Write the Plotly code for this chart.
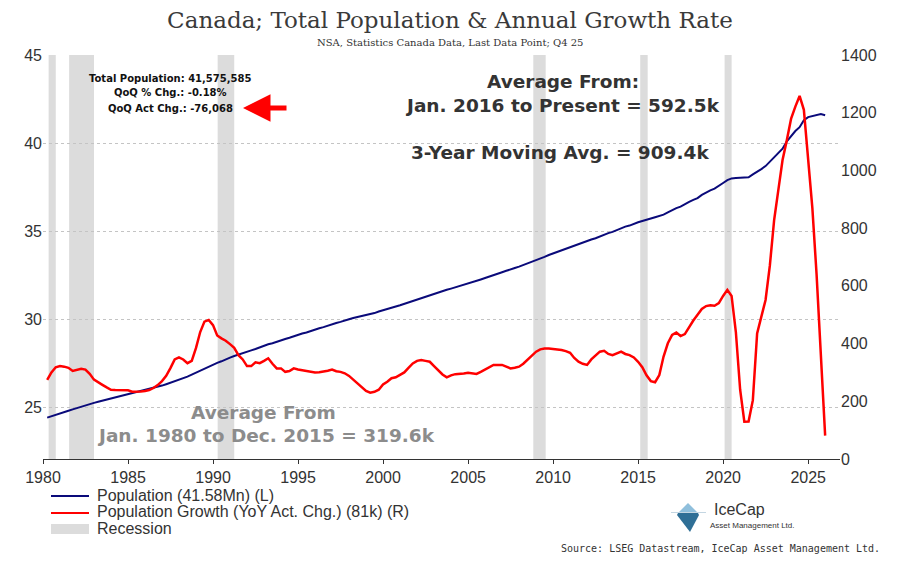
import plotly.graph_objects as go
from plotly.subplots import make_subplots

# quarterly data, 1980 Q1 .. 2025 Q4 (four values per row = one year)
years = list(range(1980, 2026))

population_mn = [
    24.40, 24.47, 24.55, 24.63,  # 1980
    24.72, 24.79, 24.87, 24.95,
    25.03, 25.10, 25.17, 25.24,
    25.30, 25.36, 25.43, 25.48,
    25.54, 25.60, 25.66, 25.71,
    25.77, 25.83, 25.89, 25.95,  # 1985
    26.01, 26.07, 26.15, 26.22,
    26.30, 26.38, 26.47, 26.55,
    26.64, 26.73, 26.84, 26.96,
    27.08, 27.18, 27.31, 27.41,
    27.51, 27.60, 27.72, 27.81,  # 1990
    27.90, 27.97, 28.06, 28.14,
    28.22, 28.30, 28.40, 28.48,
    28.57, 28.63, 28.72, 28.79,
    28.87, 28.94, 29.03, 29.10,
    29.18, 29.24, 29.33, 29.40,  # 1995
    29.48, 29.54, 29.63, 29.70,
    29.78, 29.84, 29.93, 29.99,
    30.06, 30.11, 30.18, 30.23,
    30.29, 30.34, 30.43, 30.49,
    30.56, 30.62, 30.71, 30.78,  # 2000
    30.86, 30.93, 31.03, 31.11,
    31.20, 31.27, 31.37, 31.44,
    31.51, 31.57, 31.66, 31.73,
    31.80, 31.86, 31.95, 32.02,
    32.10, 32.16, 32.25, 32.33,  # 2005
    32.42, 32.49, 32.58, 32.66,
    32.74, 32.80, 32.90, 32.98,
    33.07, 33.14, 33.25, 33.35,
    33.45, 33.53, 33.64, 33.73,
    33.83, 33.90, 34.01, 34.09,  # 2010
    34.17, 34.24, 34.34, 34.43,
    34.52, 34.59, 34.70, 34.79,
    34.88, 34.95, 35.06, 35.16,
    35.25, 35.31, 35.42, 35.50,
    35.57, 35.62, 35.71, 35.78,  # 2015
    35.86, 35.93, 36.06, 36.19,
    36.30, 36.39, 36.54, 36.66,
    36.77, 36.87, 37.05, 37.19,
    37.31, 37.41, 37.59, 37.73,
    37.89, 37.99, 38.01, 38.03,  # 2020
    38.02, 38.05, 38.22, 38.36,
    38.52, 38.69, 38.93, 39.21,
    39.46, 39.68, 40.10, 40.40,
    40.68, 40.90, 41.29, 41.47,
    41.53, 41.55, 41.65, 41.58,  # 2025
]

growth_k = [
    274, 300, 318, 322,  # 1980
    320, 316, 305, 310,
    313, 310, 295, 275,
    265, 257, 248, 240,
    239, 239, 239, 238,
    233, 233, 234, 236,  # 1985
    239, 246, 256, 270,
    288, 315, 345, 352,
    345, 332, 340, 385,
    440, 476, 482, 464,
    428, 418, 410, 398,  # 1990
    385, 360, 345, 322,
    322, 335, 332, 340,
    349, 330, 314, 314,
    302, 305, 314, 310,
    307, 305, 302, 300,  # 1995
    301, 303, 306, 310,
    304, 302, 297, 288,
    275, 260, 247, 236,
    230, 233, 240, 258,
    268, 280, 283, 292,  # 2000
    300, 316, 331, 340,
    343, 340, 337, 322,
    308, 293, 283, 290,
    294, 294, 296, 299,
    296, 295, 302, 311,  # 2005
    320, 326, 326, 326,
    320, 314, 316, 320,
    330, 343, 358, 372,
    380, 383, 383, 382,
    380, 378, 374, 368,  # 2010
    350, 337, 330, 326,
    345, 360, 372, 375,
    364, 360, 366, 372,
    364, 360, 352, 337,
    318, 290, 270, 266,  # 2015
    291, 355, 401, 430,
    438, 426, 433, 458,
    480, 500, 520, 530,
    533, 531, 540, 565,
    586, 565, 440, 240,  # 2020
    129, 130, 204, 435,
    495, 551, 670, 828,
    932, 1036, 1105, 1180,
    1221, 1258, 1210, 1040,
    870, 640, 380, 81,  # 2025
]

recession_start = ["1980-05-01", "1981-07-15", "1990-04-10", "2008-11-01", "2015-02-15", "2020-02-01"]
recession_end = ["1980-10-01", "1983-01-01", "1991-04-01", "2009-07-25", "2015-07-25", "2020-07-01"]

quarter_end = ["03-31", "06-30", "09-30", "12-31"]
dates = [f"{y}-{q}" for y in years for q in quarter_end]

# the page puts the figure 8px in from the top-left, so the figure is made
# 8px smaller; helpers below take window pixels (plot area 43..840 x 55..459)
OFF = 8
W, H = 901 - OFF, 567 - OFF
L, R, T, B = 43 - OFF, 61, 55 - OFF, 108
PW, PH = W - L - R, H - T - B


def px(x):
    return (x - OFF - L) / PW


def py(y):
    return (H - B - (y - OFF)) / PH


TXT = "#333333"
SANS = "Liberation Sans, Arial, sans-serif"
BOLD = "DejaVu Sans, sans-serif"

fig = make_subplots(specs=[[{"secondary_y": True}]])

fig.add_trace(
    go.Scatter(x=dates, y=population_mn, mode="lines",
               line=dict(color="#0a0a7a", width=2), showlegend=False,
               name="Population (41.58Mn) (L)"),
    secondary_y=False,
)
fig.add_trace(
    go.Scatter(x=dates, y=growth_k, mode="lines",
               line=dict(color="#ff0000", width=2.5), showlegend=False,
               name="Population Growth (YoY Act. Chg.) (81k) (R)"),
    secondary_y=True,
)

for s, e in zip(recession_start, recession_end):
    fig.add_shape(type="rect", xref="x", yref="paper", x0=s, x1=e, y0=0, y1=1,
                  fillcolor="#dcdcdc", line_width=0, layer="below")

# hand-drawn legend
legend_items = [
    ("line", "#0a0a7a", "Population (41.58Mn) (L)", 495),
    ("line", "#ff0000", "Population Growth (YoY Act. Chg.) (81k) (R)", 512),
    ("box", "#dcdcdc", "Recession", 528),
]
annotations = []
for kind, col, label, yy in legend_items:
    if kind == "line":
        fig.add_shape(type="line", xref="paper", yref="paper", x0=px(51), x1=px(89),
                      y0=py(yy + 1), y1=py(yy + 1), line=dict(color=col, width=2))
    else:
        fig.add_shape(type="rect", xref="paper", yref="paper", x0=px(51), x1=px(89),
                      y0=py(yy + 6), y1=py(yy - 4), fillcolor=col, line_width=0)
    annotations.append(dict(x=px(95), y=py(yy), text=label, xanchor="left",
                            font=dict(family=SANS, size=16, color=TXT)))

# logo
logo_light = [(688, 503), (698, 513), (678, 513)]
logo_dark = [(678, 513), (698, 513), (699, 515), (690, 532), (677, 515)]
for pts, col in ((logo_light, "#8fbfdc"), (logo_dark, "#2f6f96")):
    path = "M " + " L ".join(f"{px(a)},{py(b)}" for a, b in pts) + " Z"
    fig.add_shape(type="path", xref="paper", yref="paper", path=path,
                  fillcolor=col, line_width=0)
fig.add_shape(type="line", xref="paper", yref="paper", x0=px(671), x1=px(706),
              y0=py(512.5), y1=py(512.5), line=dict(color="#c4d6e2", width=1))

annotations += [
    dict(x=px(712), y=py(509.5), text="IceCap", xanchor="left",
         font=dict(family=SANS, size=16, color=TXT)),
    dict(x=px(708), y=py(525.5), text="Asset Management Ltd.", xanchor="left",
         font=dict(family=SANS, size=8, color=TXT)),
    dict(x=px(882), y=py(548), text="Source: LSEG Datastream, IceCap Asset Management Ltd.",
         xanchor="right", font=dict(family="DejaVu Sans Mono, monospace", size=10, color=TXT)),
    dict(x=px(450), y=py(43), text="NSA, Statistics Canada Data, Last Data Point; Q4 25",
         font=dict(family="DejaVu Serif, serif", size=10, color=TXT)),
    # top-left info box
    dict(x=px(170), y=py(78), text="<b>Total Population: 41,575,585</b>",
         font=dict(family=BOLD, size=10, color="#111111")),
    dict(x=px(170), y=py(93), text="<b>QoQ % Chg.: -0.18%</b>",
         font=dict(family=BOLD, size=10, color="#111111")),
    dict(x=px(170), y=py(108), text="<b>QoQ Act Chg.: -76,068</b>",
         font=dict(family=BOLD, size=10, color="#111111")),
    # averages
    dict(x=px(563), y=py(82), text="<b>Average From:</b>",
         font=dict(family=BOLD, size=18.5, color="#333333")),
    dict(x=px(562), y=py(105), text="<b>Jan. 2016 to Present = 592.5k</b>",
         font=dict(family=BOLD, size=18.5, color="#333333")),
    dict(x=px(560), y=py(152), text="<b>3-Year Moving Avg. = 909.4k</b>",
         font=dict(family=BOLD, size=18.5, color="#333333")),
    dict(x=px(263), y=py(412), text="<b>Average From</b>",
         font=dict(family=BOLD, size=18.5, color="#8c8c8c")),
    dict(x=px(266), y=py(435), text="<b>Jan. 1980 to Dec. 2015 = 319.6k</b>",
         font=dict(family=BOLD, size=18.5, color="#8c8c8c")),
]
for a in annotations:
    a.setdefault("xref", "paper")
    a.setdefault("yref", "paper")
    a.setdefault("showarrow", False)
    a.setdefault("xanchor", "center")
    a.setdefault("yanchor", "middle")

# red arrow pointing at the latest change
annotations.append(dict(xref="paper", yref="paper", x=px(243), y=py(108), text="",
                        showarrow=True, ax=45, ay=0, arrowhead=2, arrowsize=1.1,
                        arrowwidth=5, arrowcolor="#ff0000", standoff=0))

fig.update_layout(
    width=W, height=H,
    margin=dict(l=L, r=R, t=T, b=B),
    paper_bgcolor="white", plot_bgcolor="white",
    showlegend=False,
    title=dict(text="Canada; Total Population & Annual Growth Rate",
               x=(450 - OFF) / W, xanchor="center", y=1 - (20 - OFF) / H, yanchor="middle",
               font=dict(family="DejaVu Serif, Georgia, serif", size=23, color="#3a3a3a")),
    annotations=annotations,
)

fig.update_xaxes(
    domain=[0, 1],
    type="date", range=["1980-01-01", "2026-11-15"],
    tick0="1980-01-01", dtick="M60", tickformat="%Y",
    showgrid=False, showline=True, linecolor=TXT, linewidth=1,
    ticks="outside", ticklen=4, tickcolor=TXT,
    tickfont=dict(family=SANS, size=16, color=TXT),
)
fig.update_yaxes(
    range=[22.05, 45], tickvals=[25, 30, 35, 40, 45],
    showgrid=True, gridcolor="#c4c4c4", griddash="dot", gridwidth=1,
    zeroline=False, showline=False, ticks="",
    tickfont=dict(family=SANS, size=16, color=TXT),
    secondary_y=False,
)
fig.update_yaxes(
    range=[0, 1400], dtick=200,
    showgrid=False, zeroline=False, showline=False, ticks="",
    tickfont=dict(family=SANS, size=16, color=TXT),
    secondary_y=True,
)

fig.write_html("out.html")
